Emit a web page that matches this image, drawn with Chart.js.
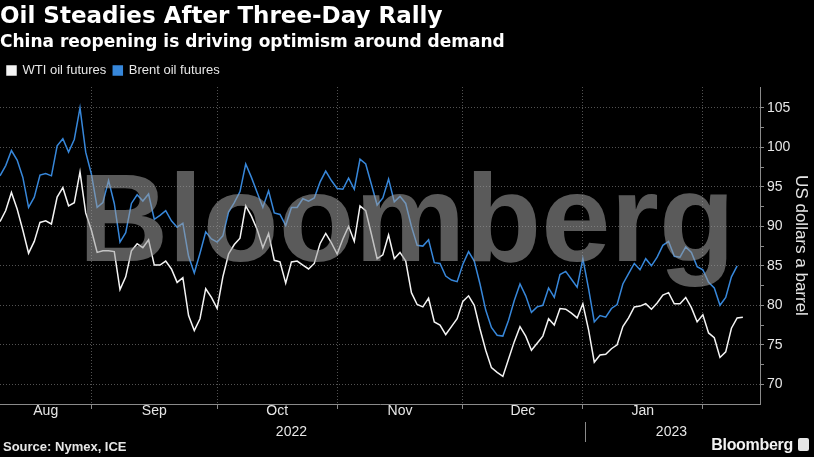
<!DOCTYPE html>
<html lang="en">
<head>
<meta charset="UTF-8">
<title>Oil Steadies After Three-Day Rally</title>
<script src="https://cdn.jsdelivr.net/npm/chart.js"></script>
<style>
  html, body { margin: 0; padding: 0; background: #000; }
  #wrap { position: relative; width: 814px; height: 457px; overflow: hidden; }
  #source { position: absolute; left: 3px; top: 439px; color: #e6e6e6;
            font: bold 13px "Liberation Sans", Arial, sans-serif; }
  #brand { position: absolute; right: 5px; top: 436px; color: #f2f2f2;
           font: bold 16px "Liberation Sans", Arial, sans-serif; letter-spacing: -0.3px; }
  #brand .icon { display: inline-block; width: 11px; height: 13px; margin-left: 5px; vertical-align: -1px;
                 background: #e6e6e6; border-radius: 2px; }
</style>
</head>
<body>
<div id="wrap">
  <canvas id="myChart"></canvas>
  <div id="source">Source: Nymex, ICE</div>
  <div id="brand">Bloomberg<span class="icon"></span></div>
</div>

<script>
// daily settlements, one entry per trading day (Aug 9 2022 .. Feb 9 2023)
const wti = [
  90.6, 92.0, 94.3, 92.2, 89.5, 86.6, 88.1, 90.5, 90.7, 90.3,
  93.7, 94.9, 92.6, 93.0, 96.9, 91.7, 89.5, 86.7, 86.9, 86.9,
  86.8, 82.0, 83.6, 86.9, 87.8, 87.3, 88.3, 85.1, 85.1, 85.6,
  84.6, 82.9, 83.5, 78.7, 76.8, 78.3, 82.1, 81.0, 79.6, 83.6,
  86.5, 87.7, 88.5, 92.6, 91.3, 89.6, 87.3, 89.1, 85.7, 85.5,
  82.8, 85.5, 85.6, 85.1, 84.6, 85.3, 87.8, 89.1, 87.9, 86.5,
  88.4, 90.0, 88.1, 92.6, 92.0, 89.0, 85.9, 86.4, 88.9, 85.9,
  86.7, 85.6, 81.6, 80.1, 79.8, 80.9, 77.9, 77.5, 76.3, 77.3,
  78.3, 80.5, 81.2, 80.0, 77.0, 74.3, 72.1, 71.5, 71.0, 73.2,
  75.4, 77.3, 76.1, 74.3, 75.2, 76.1, 78.3, 77.5, 79.6, 79.5,
  79.0, 78.4, 80.2, 76.9, 72.8, 73.7, 73.8, 74.5, 75.0, 77.3,
  78.4, 79.8, 79.9, 80.2, 79.5, 80.3, 81.3, 81.6, 80.2, 80.2,
  81.0, 79.7, 77.9, 78.8, 76.5, 75.9, 73.4, 74.1, 77.1, 78.4,
  78.5
];
const brent = [
  96.4, 97.7, 99.6, 98.4, 96.2, 92.4, 93.7, 96.5, 96.7, 96.4,
  100.2, 101.1, 99.4, 101.0, 105.0, 99.4, 96.6, 92.4, 93.0, 95.8,
  92.9, 88.0, 89.2, 92.9, 94.0, 93.2, 94.1, 90.9, 91.4, 92.0,
  90.7, 89.9, 90.4, 86.2, 84.1, 86.6, 89.3, 88.4, 88.0, 88.8,
  91.8, 93.0, 94.4, 97.9, 96.2, 94.3, 92.4, 94.5, 91.7, 91.5,
  90.1, 92.4, 92.4, 93.5, 93.2, 93.6, 95.6, 97.0, 95.8, 94.8,
  94.7, 96.1, 94.7, 98.5, 97.9, 95.3, 92.7, 93.6, 96.0, 93.1,
  93.8, 92.9, 90.0, 87.6, 87.5, 88.3, 85.4, 85.3, 83.7, 83.2,
  83.0, 85.2, 86.8, 85.6, 82.7, 79.4, 77.2, 76.2, 76.1, 78.1,
  80.6, 82.7, 81.2, 79.1, 79.8, 80.0, 82.2, 81.0, 83.9, 84.3,
  83.3, 82.3, 85.9, 82.1, 77.9, 78.7, 78.5, 79.6, 80.1, 82.7,
  84.0, 85.3, 84.5, 85.9, 85.0, 86.1, 87.6, 88.1, 86.2, 86.1,
  87.4, 86.7, 84.9, 84.5, 82.9, 82.2, 80.0, 81.0, 83.6, 85.0
];

// last trading day of each month (index into the series)
const monthEnds = [16, 38, 59, 81, 102, 123];
const monthNames = ['Aug', 'Sep', 'Oct', 'Nov', 'Dec', 'Jan'];
const monthMids = [8, 27, 48.5, 70, 91.5, 112.5];
const yearLabels = ['2022', '2023'];
const yearMids = [51, 117.5];
const yearSplit = 102.5;
const yTicks = [70, 75, 80, 85, 90, 95, 100, 105];

const WHITE = '#f4f4f4';
const BLUE = '#3787da';
const GRID = 'rgba(255,255,255,0.32)';
const AXIS = '#8a8a8a';
const sans = "'Liberation Sans', Arial, sans-serif";

// big grey wordmark, fitted to a box given as fractions of the plot area
const watermark = {
  id: 'watermark',
  afterDatasetsDraw(chart) {
    const a = chart.chartArea;
    const w = a.right - a.left, h = a.bottom - a.top;
    const x0 = a.left + w * 0.113, x1 = a.left + w * 0.957;
    const y0 = a.top + h * 0.261, y1 = a.top + h * 0.632;
    const c = chart.ctx;
    c.save();
    c.font = "bold 100px " + sans;
    c.textAlign = 'left';
    c.textBaseline = 'alphabetic';
    const m = c.measureText('Bloomberg');
    const tw = m.actualBoundingBoxLeft + m.actualBoundingBoxRight;
    const th = m.actualBoundingBoxAscent + m.actualBoundingBoxDescent;
    const sx = (x1 - x0) / tw, sy = (y1 - y0) / th;
    c.translate(x0, y0);
    c.scale(sx, sy);
    c.fillStyle = 'rgba(158,158,158,0.57)';
    c.fillText('Bloomberg', m.actualBoundingBoxLeft, m.actualBoundingBoxAscent);
    c.restore();
  }
};

Chart.defaults.font.family = sans;
Chart.defaults.color = '#e6e6e6';

const ctx = document.getElementById('myChart').getContext('2d');
new Chart(ctx, {
  type: 'line',
  data: {
    datasets: [
      {
        label: 'WTI oil futures',
        data: wti.map((v, i) => ({ x: i, y: v })),
        borderColor: WHITE,
        backgroundColor: WHITE,
        borderWidth: 1.5,
        pointRadius: 0,
        tension: 0
      },
      {
        label: 'Brent oil futures',
        data: brent.map((v, i) => ({ x: i, y: v })),
        borderColor: BLUE,
        backgroundColor: BLUE,
        borderWidth: 1.5,
        pointRadius: 0,
        tension: 0
      }
    ]
  },
  options: {
    responsive: true,
    maintainAspectRatio: false,
    animation: false,
    layout: { padding: { left: 0, right: 0, top: 0, bottom: 13 } },
    plugins: {
      title: {
        display: true,
        text: 'Oil Steadies After Three-Day Rally',
        align: 'start',
        color: '#ffffff',
        font: { family: "'DejaVu Sans', sans-serif", size: 23, weight: 'bold', lineHeight: 1.15 },
        padding: { top: 4, bottom: 0 }
      },
      subtitle: {
        display: true,
        text: 'China reopening is driving optimism around demand',
        align: 'start',
        color: '#ffffff',
        font: { family: "'DejaVu Sans', sans-serif", size: 17, weight: 'bold', lineHeight: 1.15 },
        padding: { top: 2, bottom: 5 }
      },
      legend: {
        display: true,
        align: 'start',
        labels: {
          color: '#e6e6e6',
          boxWidth: 9,
          boxHeight: 9,
          padding: 7,
          font: { size: 13 }
        }
      },
      tooltip: { enabled: false }
    },
    scales: {
      x: {
        type: 'linear',
        position: 'bottom',
        min: 0,
        max: 133,
        afterBuildTicks: s => { s.ticks = monthEnds.map(v => ({ value: v })); },
        afterFit: s => { s.height = 1; },
        ticks: { display: false },
        grid: { color: GRID, tickColor: AXIS, tickLength: 5, drawTicks: true },
        border: { display: true, color: AXIS, dash: [1, 2] }
      },
      xm: {
        type: 'linear',
        position: 'bottom',
        min: 0,
        max: 133,
        afterBuildTicks: s => { s.ticks = monthMids.map(v => ({ value: v })); },
        afterFit: s => { s.height = 17; },
        ticks: {
          autoSkip: false, maxRotation: 0, padding: -2,
          color: '#e6e6e6', font: { size: 14 },
          callback: (v, i) => monthNames[i]
        },
        grid: { display: false, drawTicks: false },
        border: { display: false }
      },
      xy: {
        type: 'linear',
        position: 'bottom',
        min: 0,
        max: 133,
        afterBuildTicks: s => {
          s.ticks = [{ value: yearMids[0] }, { value: yearSplit }, { value: yearMids[1] }];
        },
        afterFit: s => { s.height = 22; },
        ticks: {
          autoSkip: false, maxRotation: 0, padding: -18,
          color: '#e6e6e6', font: { size: 14 },
          callback: v => v === yearMids[0] ? yearLabels[0] : (v === yearMids[1] ? yearLabels[1] : '')
        },
        grid: {
          drawOnChartArea: false,
          drawTicks: true,
          tickLength: 20,
          tickColor: c => (c.tick && c.tick.value === yearSplit) ? AXIS : 'rgba(0,0,0,0)'
        },
        border: { display: false }
      },
      y: {
        type: 'linear',
        position: 'right',
        min: 67.5,
        max: 107.65,
        afterBuildTicks: s => {
          const t = [];
          for (let v = 70; v <= 105; v += 2.5) t.push({ value: v });
          s.ticks = t;
        },
        afterFit: s => { s.width = 54; },
        ticks: {
          autoSkip: false, padding: 3,
          color: '#e6e6e6', font: { size: 14 },
          callback: v => yTicks.includes(v) ? String(v) : ''
        },
        grid: {
          color: c => (c.tick && yTicks.includes(c.tick.value)) ? GRID : 'rgba(0,0,0,0)',
          tickColor: AXIS,
          tickLength: 4
        },
        border: { display: true, color: AXIS, dash: [1, 2] },
        title: {
          display: true,
          text: 'US dollars a barrel',
          color: '#e6e6e6',
          font: { size: 17 },
          padding: { top: 3, bottom: 0 }
        }
      }
    }
  },
  plugins: [watermark]
});
</script>
</body>
</html>
